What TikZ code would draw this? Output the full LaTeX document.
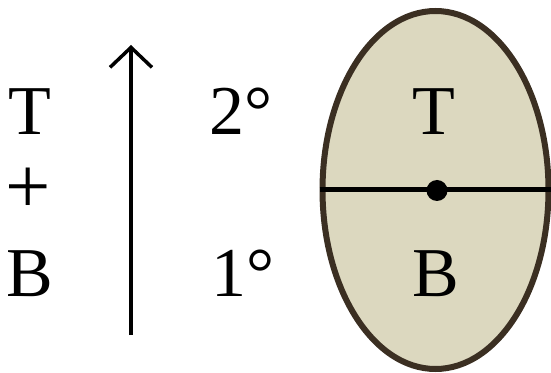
\documentclass[tikz,border=0pt]{standalone}
\usepackage{fontspec}
\setmainfont{Liberation Serif}
\usetikzlibrary{shapes.geometric,arrows.meta}
\definecolor{stroke}{HTML}{3B2F22}
\definecolor{beige}{HTML}{DCD8BF}
\tikzset{
  big/.style={font=\fontsize{70}{70}\selectfont, inner sep=0pt, text=black},
}
\begin{document}
\begin{tikzpicture}[x=1pt,y=1pt]
\useasboundingbox (0,0) rectangle (551,372);
% left column
\node[big, anchor=base] (lt) at (30,237) {T};
\node[big, anchor=center, scale=1.15] (plus) at (28,181) {+};
\node[big, anchor=base] (lb) at (30,75) {B};
% arrow
\coordinate (abot) at (131,37);
\coordinate (atop) at (131,327);
\draw[stroke, line width=3.5pt, -{Straight Barb[length=20pt,width=42pt,line width=3.5pt]}] (abot) -- (atop);
% degree labels
\node[big, anchor=base] (two) at (241,237) {2°};
\node[big, anchor=base] (one) at (243,75) {1°};
% ellipse
\node[ellipse, draw=stroke, fill=beige, line width=6pt, minimum width=226pt, minimum height=358pt, inner sep=0pt] (ell) at (435.5,182) {};
\draw[stroke, line width=5pt] (ell.west) -- (ell.east);
\node[circle, fill=black, minimum size=21pt, inner sep=0pt] (dot) at (437,181.5) {};
\node[big, anchor=base] (et) at (434,237) {T};
\node[big, anchor=base] (eb) at (436,75) {B};
\end{tikzpicture}
\end{document}
